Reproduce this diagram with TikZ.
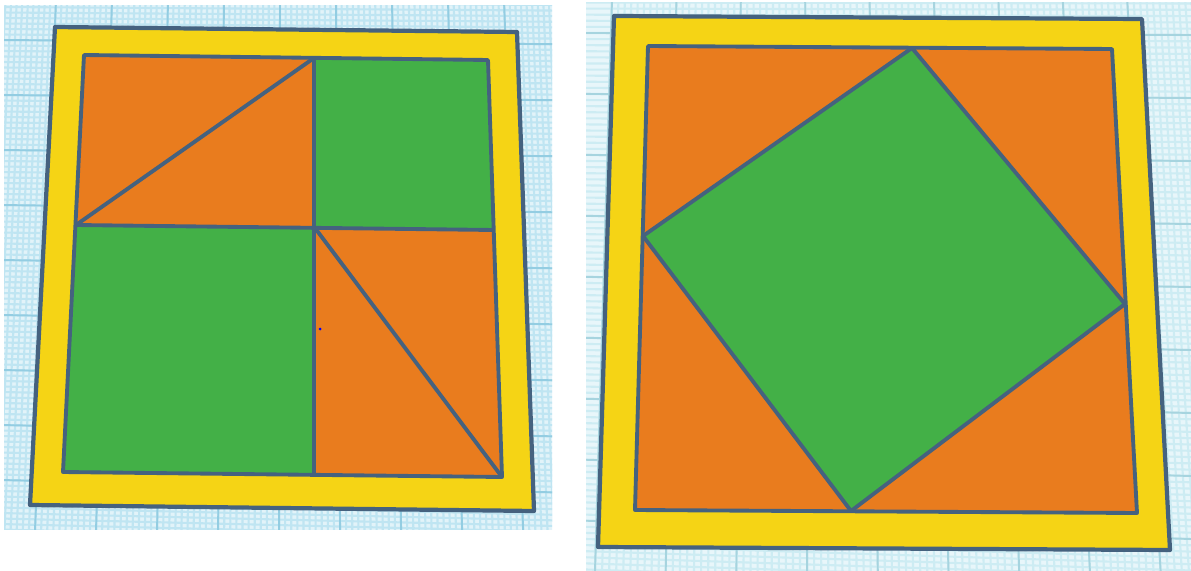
\documentclass[tikz,border=0pt]{standalone}
\usepackage{tikz}
\definecolor{gridbackL}{HTML}{E2F3F9}
\definecolor{gridbackR}{HTML}{E8F6FA}
\definecolor{gridfineL}{HTML}{BFE5F2}
\definecolor{gridmajorL}{HTML}{93CDE2}
\definecolor{gridfineR}{HTML}{CDECF3}
\definecolor{gridmajorR}{HTML}{A6D4DF}
\definecolor{plateyellow}{HTML}{F5D415}
\definecolor{tileorange}{HTML}{E97C1E}
\definecolor{tilegreen}{HTML}{43B047}
\definecolor{edgeblue}{HTML}{45627F}
\tikzset{
    edge/.style={draw=edgeblue, line width=2.4pt, line join=round},
    inneredge/.style={draw=edgeblue, line width=2.2pt, line join=round},
}
% #1 colour name, #2-#5 vertical lines (top x, step, bottom x, step), #6-#9 horizontal lines (left y, step, right y, step)
\newcommand{\GridLines}[9]{
    \fill[gridback#1] (0,0) rectangle (1191,571);
    \foreach \i in {0,...,100}{
        \draw[gridfine#1, line width=1.2pt] ({#2+\i*#3/10},0) -- ({#4+\i*#5/10},571);
        \draw[gridfine#1, line width=1.2pt] (0,{#6+(\i-10)*#7/10}) -- (1191,{#8+(\i-10)*#9/10});
    }
    \foreach \i in {0,...,10}{
        \draw[gridmajor#1, line width=1.1pt] ({#2+\i*#3},0) -- ({#4+\i*#5},571);
        \draw[gridmajor#1, line width=1.1pt] (0,{#6+\i*#7}) -- (1191,{#8+\i*#9});
    }
}
\begin{document}
\begin{tikzpicture}[x=0.02cm, y=-0.02cm]
    \useasboundingbox (0,0) rectangle (1191,571);
    \begin{scope}
        \clip (4,6) rectangle (552,529);
        \GridLines{L}{0}{56}{-28}{61.4}{40}{55}{49}{57.2}
    \end{scope}
    \begin{scope}
        \clip (586,3) rectangle (1191,571);
        \GridLines{R}{612}{64.4}{595}{70.7}{31}{59}{35}{63}
    \end{scope}

    % left plate
    \coordinate (A1) at (55,27);
    \coordinate (A2) at (517,32);
    \coordinate (A3) at (534,511);
    \coordinate (A4) at (30,505);
    \coordinate (B1) at (84,55);
    \coordinate (B2) at (488,60);
    \coordinate (B3) at (502,477);
    \coordinate (B4) at (63,472);
    \coordinate (T1) at (314,58);
    \coordinate (T2) at (494,230);
    \coordinate (T3) at (314,474);
    \coordinate (T4) at (76,225);
    \coordinate (M) at (315,228);

    \filldraw[edge, fill=plateyellow] (A1) -- (A2) -- (A3) -- (A4) -- cycle;
    \fill[tileorange] (B1) -- (B2) -- (B3) -- (B4) -- cycle;
    \fill[tilegreen] (T1) -- (B2) -- (T2) -- (M) -- cycle;
    \fill[tilegreen] (T4) -- (M) -- (T3) -- (B4) -- cycle;
    \draw[inneredge] (B1) -- (B2) -- (B3) -- (B4) -- cycle;
    \draw[inneredge] (T1) -- (T3);
    \draw[inneredge] (T4) -- (T2);
    \draw[inneredge] (T4) -- (T1);
    \draw[inneredge] (M) -- (B3);
    \fill[blue] (320,329) circle (1.5);

    % right plate
    \coordinate (C1) at (614,16);
    \coordinate (C2) at (1142,19);
    \coordinate (C3) at (1170,550);
    \coordinate (C4) at (598,547);
    \coordinate (D1) at (648,46);
    \coordinate (D2) at (1112,49);
    \coordinate (D3) at (1137,513);
    \coordinate (D4) at (635,510);
    \coordinate (S1) at (912,48);
    \coordinate (S2) at (1125,304);
    \coordinate (S3) at (851,511);
    \coordinate (S4) at (643,236);

    \filldraw[edge, fill=plateyellow] (C1) -- (C2) -- (C3) -- (C4) -- cycle;
    \fill[tileorange] (D1) -- (D2) -- (D3) -- (D4) -- cycle;
    \filldraw[inneredge, fill=tilegreen] (S1) -- (S2) -- (S3) -- (S4) -- cycle;
    \draw[inneredge] (D1) -- (D2) -- (D3) -- (D4) -- cycle;
\end{tikzpicture}
\end{document}
